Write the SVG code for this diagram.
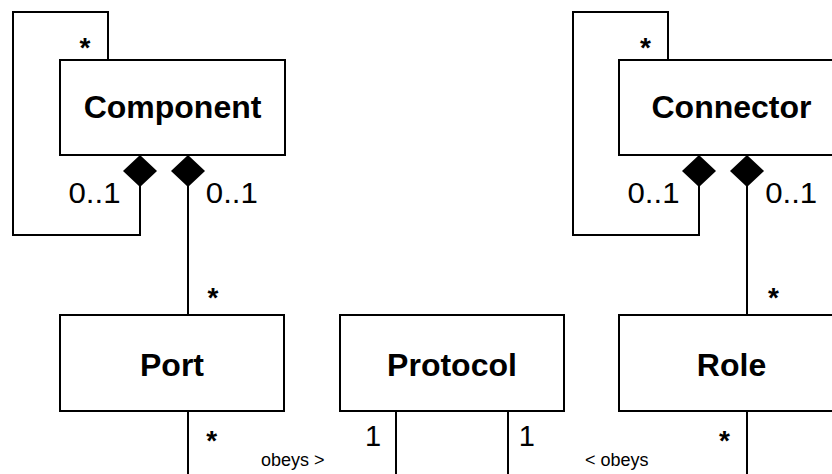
<svg xmlns="http://www.w3.org/2000/svg" width="832" height="474" viewBox="0 0 832 474">
  <style>
    .box { fill: #ffffff; stroke: #000000; stroke-width: 2; }
    .title { font-family: "Liberation Sans", Arial, sans-serif; font-weight: bold; font-size: 32px; fill: #000000; text-anchor: middle; }
    .lbl { font-family: "Liberation Sans", Arial, sans-serif; font-size: 29px; fill: #000000; }
    .star { font-family: "Liberation Sans", Arial, sans-serif; font-weight: bold; font-size: 28px; fill: #000000; text-anchor: middle; }
    .small { font-family: "Liberation Sans", Arial, sans-serif; font-size: 18px; fill: #000000; }
    .conn { fill: none; stroke: #000000; stroke-width: 2; }
    .comp { marker-start: url(#diamond); }
  </style>
  <defs>
    <marker id="diamond" markerUnits="userSpaceOnUse" markerWidth="34" markerHeight="36" refX="0" refY="18" orient="auto" viewBox="0 0 34 36" overflow="visible">
      <polygon points="0,18 16,1 32,18 16,35" fill="#000000"/>
    </marker>
  </defs>

  <g id="connectors">
    <path class="conn comp" d="M140,155 L140,235 L13,235 L13,12 L108,12 L108,60"/>
    <path class="conn comp" d="M188,155 L188,315"/>
    <path class="conn comp" d="M699,155 L699,235 L573,235 L573,12 L668,12 L668,60"/>
    <path class="conn comp" d="M747,155 L747,315"/>
    <path class="conn" d="M188,411 L188,480"/>
    <path class="conn" d="M396,411 L396,480"/>
    <path class="conn" d="M508,411 L508,480"/>
    <path class="conn" d="M747,411 L747,480"/>
    <text class="star" x="85" y="57">*</text>
    <text class="lbl" x="68.5" y="202.5" textLength="52" lengthAdjust="spacingAndGlyphs">0..1</text>
    <text class="lbl" x="205.8" y="202.5" textLength="52" lengthAdjust="spacingAndGlyphs">0..1</text>
    <text class="star" x="213" y="307">*</text>
    <text class="star" x="645.5" y="57">*</text>
    <text class="lbl" x="627.5" y="202.5" textLength="52" lengthAdjust="spacingAndGlyphs">0..1</text>
    <text class="lbl" x="765.2" y="202.5" textLength="52" lengthAdjust="spacingAndGlyphs">0..1</text>
    <text class="star" x="773.5" y="307">*</text>
    <text class="star" x="211.7" y="449.5">*</text>
    <text class="lbl" x="365" y="446">1</text>
    <text class="small" x="261" y="466">obeys &gt;</text>
    <text class="lbl" x="518.7" y="446">1</text>
    <text class="small" x="585" y="466">&lt; obeys</text>
    <text class="star" x="724.5" y="449.5">*</text>
  </g>

  <g id="component">
    <rect class="box" x="60" y="60" width="225" height="95"/>
    <text class="title" x="172.5" y="118">Component</text>
  </g>
  <g id="connector">
    <rect class="box" x="619" y="60" width="225" height="95"/>
    <text class="title" x="731.5" y="118">Connector</text>
  </g>
  <g id="port">
    <rect class="box" x="60" y="315" width="224" height="96"/>
    <text class="title" x="172" y="376">Port</text>
  </g>
  <g id="protocol">
    <rect class="box" x="340" y="315" width="224" height="96"/>
    <text class="title" x="452" y="376">Protocol</text>
  </g>
  <g id="role">
    <rect class="box" x="619" y="315" width="225" height="96"/>
    <text class="title" x="731.5" y="376">Role</text>
  </g>
</svg>
